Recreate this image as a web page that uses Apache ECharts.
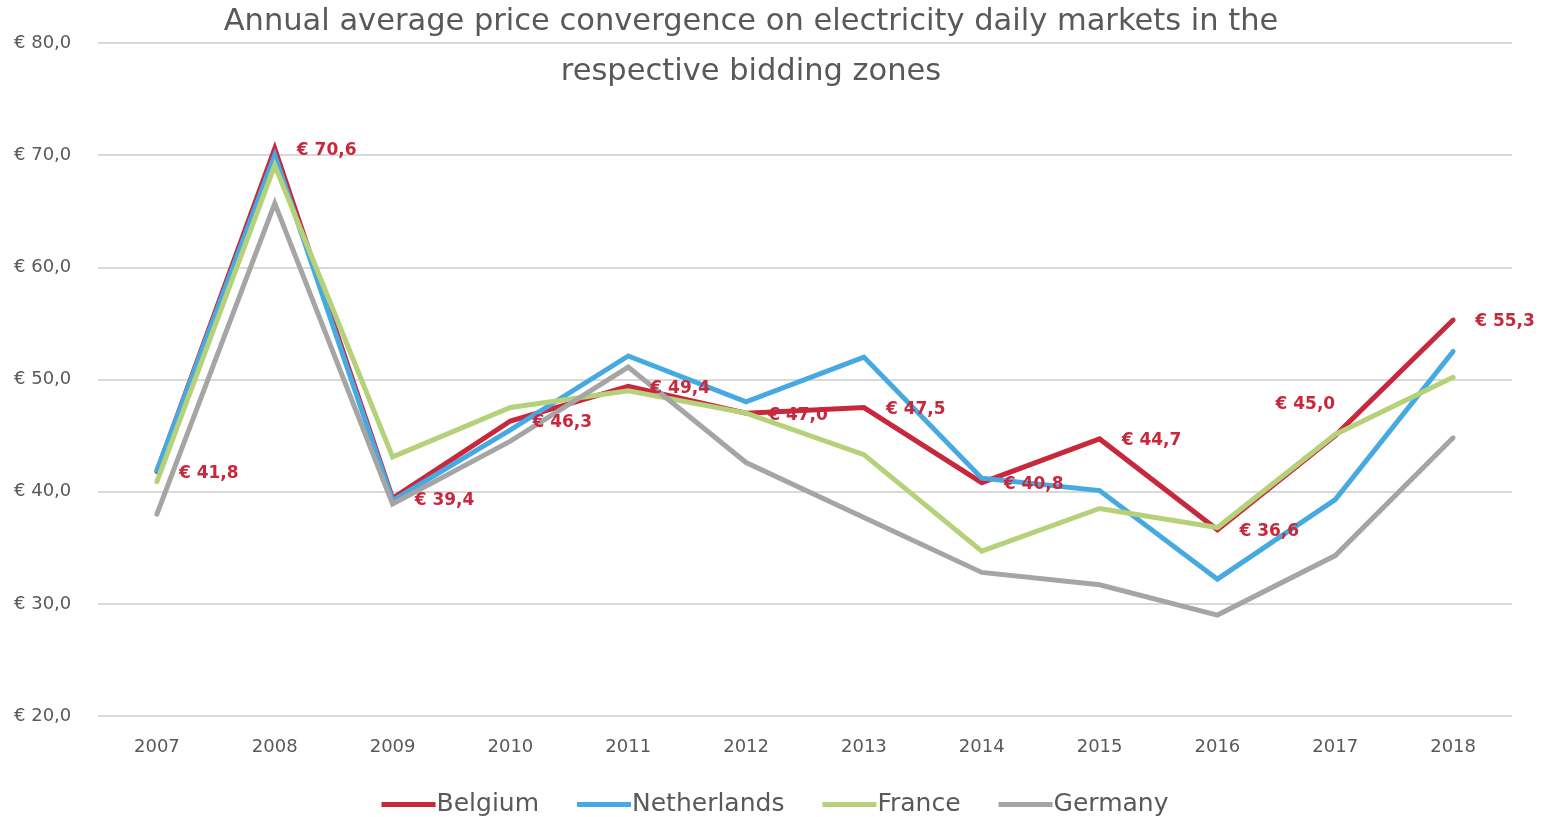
<!DOCTYPE html>
<html>
<head>
<meta charset="utf-8">
<script src="https://cdn.jsdelivr.net/npm/echarts@6/dist/echarts.min.js"></script>
<style>
  html, body { margin: 0; padding: 0; background: #fff; }
  #chart { width: 1550px; height: 817px; }
</style>
</head>
<body>
<div id="chart"></div>
<script>
// 数据
const years = ['2007', '2008', '2009', '2010', '2011', '2012', '2013', '2014', '2015', '2016', '2017', '2018'];
const belgium = [41.8, 70.6, 39.4, 46.3, 49.4, 47.0, 47.5, 40.8, 44.7, 36.6, 45.0, 55.3];
const netherlands = [41.9, 70.0, 39.2, 45.5, 52.1, 48.0, 52.0, 41.2, 40.1, 32.2, 39.3, 52.5];
const france = [40.9, 69.1, 43.1, 47.5, 49.0, 47.0, 43.3, 34.7, 38.5, 36.8, 45.1, 50.2];
const germany = [38.0, 65.7, 38.9, 44.5, 51.1, 42.6, 37.7, 32.8, 31.7, 29.0, 34.3, 44.8];
const yTicks = [20, 30, 40, 50, 60, 70, 80];

const FONT = '"DejaVu Sans", sans-serif';
const TEXT = '#595959';
const fmtEuro = v => '€ ' + v.toFixed(1).replace('.', ',');

// Belgium 的标签 (2017 放在左上方)
const belgiumData = belgium.map((v, i) => {
  const d = { value: v };
  if (i === 10) {
    d.label = { position: 'left', distance: 0, offset: [0, -31] };
  }
  return d;
});

const makeSeries = (name, data, color, withLabel) => ({
  name,
  type: 'line',
  data,
  symbol: 'circle',
  symbolSize: 0.1,
  showSymbol: withLabel,
  lineStyle: { color, width: 5, cap: 'round', join: 'miter' },
  itemStyle: { color },
  label: withLabel ? {
    show: true,
    position: 'right',
    distance: 22,
    offset: [0, 2],
    formatter: p => fmtEuro(p.value),
    color: '#C8283C',
    fontFamily: FONT,
    fontWeight: 'bold',
    fontSize: 17
  } : { show: false },
  emphasis: { disabled: true }
});

const chart = echarts.init(document.getElementById('chart'));
chart.setOption({
  animation: false,
  title: {
    text: 'Annual average price convergence on electricity daily markets in the\nrespective bidding zones',
    left: 746,
    textAlign: 'center',
    top: -8,
    textStyle: {
      fontFamily: FONT,
      fontSize: 30.5,
      fontWeight: 'normal',
      color: TEXT,
      lineHeight: 50
    }
  },
  legend: {
    bottom: -5,
    left: 'center',
    icon: 'rect',
    itemWidth: 54,
    itemHeight: 5,
    itemGap: 38,
    textStyle: { fontFamily: FONT, fontSize: 25, color: TEXT, padding: [0, 0, 0, -4] },
    data: ['Belgium', 'Netherlands', 'France', 'Germany']
  },
  grid: { left: 98, right: 38, top: 43, bottom: 101 },
  xAxis: {
    type: 'category',
    data: years,
    boundaryGap: true,
    axisLine: { show: false },
    axisTick: { show: false },
    axisLabel: { fontFamily: FONT, fontSize: 18, color: TEXT, margin: 22 }
  },
  yAxis: {
    type: 'value',
    min: yTicks[0],
    max: yTicks[yTicks.length - 1],
    interval: 10,
    axisLine: { show: false },
    axisTick: { show: false },
    axisLabel: {
      fontFamily: FONT, fontSize: 18, color: TEXT,
      align: 'left', margin: 84,
      formatter: v => fmtEuro(v)
    },
    splitLine: { lineStyle: { color: '#D9D9D9', width: 2 } }
  },
  series: [
    makeSeries('Belgium', belgiumData, '#C8283C', true),
    makeSeries('Netherlands', netherlands, '#47A9E2', false),
    makeSeries('France', france, '#B5D27A', false),
    makeSeries('Germany', germany, '#A5A5A5', false)
  ]
});
</script>
</body>
</html>
